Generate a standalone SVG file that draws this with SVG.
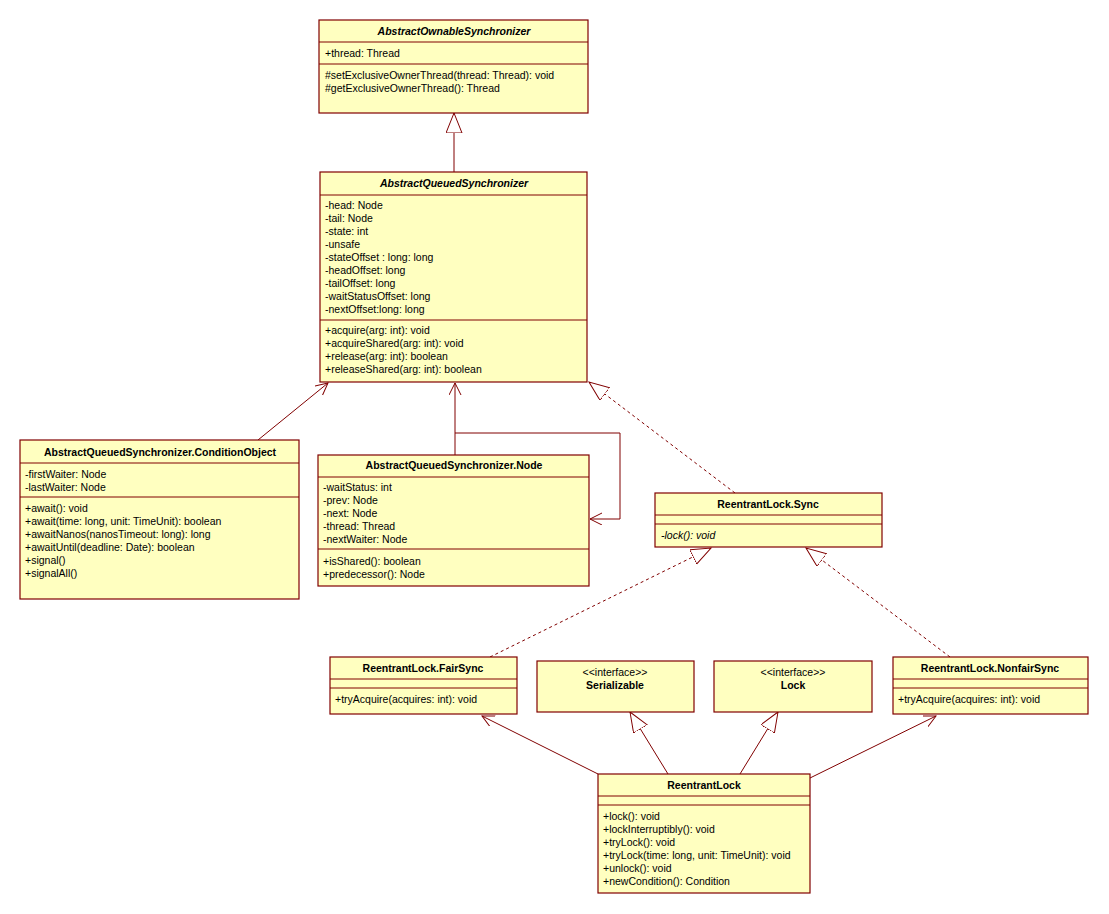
<svg xmlns="http://www.w3.org/2000/svg" width="1109" height="914" viewBox="0 0 1109 914">
<style>
.b{fill:#ffffc0;stroke:#800000;stroke-width:1.2}
.d{stroke:#800000;stroke-width:1}
text{font-family:"Liberation Sans",Arial,sans-serif;font-size:10.5px;fill:#000}
.t{font-weight:bold;text-anchor:middle}
.i{font-style:italic}
.c{text-anchor:middle}
.l{fill:none;stroke:#800000;stroke-width:1}
.dash{stroke-dasharray:3,3}
</style>
<defs>
<marker id="tri" markerWidth="22" markerHeight="18" refX="20" refY="8" orient="auto" markerUnits="userSpaceOnUse"><path d="M0,0 L20,8 L0,16 Z" fill="#fff" stroke="#800000" stroke-width="1"/></marker>
<marker id="arr" markerWidth="14" markerHeight="14" refX="12" refY="6" orient="auto" markerUnits="userSpaceOnUse"><path d="M0,0 L12,6 L0,12" fill="none" stroke="#800000" stroke-width="1"/></marker>
</defs>
<rect width="1109" height="914" fill="#fff"/>
<g id="connectors">
<path class="l" d="M454,172 V113" marker-end="url(#tri)"/>
<path class="l" d="M258,440 L328,383" marker-end="url(#arr)"/>
<path class="l" d="M455,455 V383" marker-end="url(#arr)"/>
<path class="l" d="M455,433 H620 V519 H590" marker-end="url(#arr)"/>
<path class="l dash" d="M735,493 L589,382" marker-end="url(#tri)"/>
<path class="l dash" d="M490,657 L711,548" marker-end="url(#tri)"/>
<path class="l dash" d="M950,657 L806,548" marker-end="url(#tri)"/>
<path class="l" d="M598,774 L482,716" marker-end="url(#arr)"/>
<path class="l" d="M668,774 L630,712" marker-end="url(#tri)"/>
<path class="l" d="M740,774 L778,712" marker-end="url(#tri)"/>
<path class="l" d="M810,778 L936,716" marker-end="url(#arr)"/>
</g>
<g id="AbstractOwnableSynchronizer">
<rect class="b" x="319" y="20" width="269" height="93"/>
<line class="d" x1="319" y1="42" x2="588" y2="42"/><line class="d" x1="319" y1="64" x2="588" y2="64"/>
<text class="t i" x="454" y="35">AbstractOwnableSynchronizer</text>
<text x="325" y="57">+thread: Thread</text>
<text x="325" y="79">#setExclusiveOwnerThread(thread: Thread): void</text>
<text x="325" y="92">#getExclusiveOwnerThread(): Thread</text>
</g>
<g id="AbstractQueuedSynchronizer">
<rect class="b" x="320" y="172" width="267" height="210"/>
<line class="d" x1="320" y1="195" x2="587" y2="195"/><line class="d" x1="320" y1="320" x2="587" y2="320"/>
<text class="t i" x="454" y="187">AbstractQueuedSynchronizer</text>
<text x="325" y="209">-head: Node</text>
<text x="325" y="222">-tail: Node</text>
<text x="325" y="235">-state: int</text>
<text x="325" y="248">-unsafe</text>
<text x="325" y="261">-stateOffset : long: long</text>
<text x="325" y="274">-headOffset: long</text>
<text x="325" y="287">-tailOffset: long</text>
<text x="325" y="300">-waitStatusOffset: long</text>
<text x="325" y="313">-nextOffset:long: long</text>
<text x="325" y="334">+acquire(arg: int): void</text>
<text x="325" y="347">+acquireShared(arg: int): void</text>
<text x="325" y="360">+release(arg: int): boolean</text>
<text x="325" y="373">+releaseShared(arg: int): boolean</text>
</g>
<g id="ConditionObject">
<rect class="b" x="20" y="440" width="279" height="159"/>
<line class="d" x1="20" y1="463" x2="299" y2="463"/><line class="d" x1="20" y1="497" x2="299" y2="497"/>
<text class="t" x="160" y="456">AbstractQueuedSynchronizer.ConditionObject</text>
<text x="25" y="478">-firstWaiter: Node</text>
<text x="25" y="491">-lastWaiter: Node</text>
<text x="25" y="512">+await(): void</text>
<text x="25" y="525">+await(time: long, unit: TimeUnit): boolean</text>
<text x="25" y="538">+awaitNanos(nanosTimeout: long): long</text>
<text x="25" y="551">+awaitUntil(deadline: Date): boolean</text>
<text x="25" y="564">+signal()</text>
<text x="25" y="577">+signalAll()</text>
</g>
<g id="Node">
<rect class="b" x="318" y="455" width="271" height="131"/>
<line class="d" x1="318" y1="477" x2="589" y2="477"/><line class="d" x1="318" y1="549" x2="589" y2="549"/>
<text class="t" x="454" y="469">AbstractQueuedSynchronizer.Node</text>
<text x="323" y="491">-waitStatus: int</text>
<text x="323" y="504">-prev: Node</text>
<text x="323" y="517">-next: Node</text>
<text x="323" y="530">-thread: Thread</text>
<text x="323" y="543">-nextWaiter: Node</text>
<text x="323" y="565">+isShared(): boolean</text>
<text x="323" y="578">+predecessor(): Node</text>
</g>
<g id="Sync">
<rect class="b" x="655" y="493" width="227" height="54"/>
<line class="d" x1="655" y1="515" x2="882" y2="515"/><line class="d" x1="655" y1="524" x2="882" y2="524"/>
<text class="t" x="768" y="508">ReentrantLock.Sync</text>
<text class="i" x="661" y="539">-lock(): void</text>
</g>
<g id="FairSync">
<rect class="b" x="330" y="657" width="187" height="57"/>
<line class="d" x1="330" y1="679" x2="517" y2="679"/><line class="d" x1="330" y1="688" x2="517" y2="688"/>
<text class="t" x="423" y="672">ReentrantLock.FairSync</text>
<text x="335" y="703">+tryAcquire(acquires: int): void</text>
</g>
<g id="Serializable">
<rect class="b" x="537" y="661" width="157" height="51"/>
<text class="c" x="615" y="676">&lt;&lt;interface&gt;&gt;</text>
<text class="t" x="615" y="689">Serializable</text>
</g>
<g id="Lock">
<rect class="b" x="714" y="661" width="158" height="51"/>
<text class="c" x="793" y="676">&lt;&lt;interface&gt;&gt;</text>
<text class="t" x="793" y="689">Lock</text>
</g>
<g id="NonfairSync">
<rect class="b" x="893" y="657" width="195" height="57"/>
<line class="d" x1="893" y1="679" x2="1088" y2="679"/><line class="d" x1="893" y1="688" x2="1088" y2="688"/>
<text class="t" x="990" y="672">ReentrantLock.NonfairSync</text>
<text x="898" y="703">+tryAcquire(acquires: int): void</text>
</g>
<g id="ReentrantLock">
<rect class="b" x="598" y="774" width="212" height="119"/>
<line class="d" x1="598" y1="796" x2="810" y2="796"/><line class="d" x1="598" y1="805" x2="810" y2="805"/>
<text class="t" x="704" y="789">ReentrantLock</text>
<text x="603" y="820">+lock(): void</text>
<text x="603" y="833">+lockInterruptibly(): void</text>
<text x="603" y="846">+tryLock(): void</text>
<text x="603" y="859">+tryLock(time: long, unit: TimeUnit): void</text>
<text x="603" y="872">+unlock(): void</text>
<text x="603" y="885">+newCondition(): Condition</text>
</g>
</svg>
